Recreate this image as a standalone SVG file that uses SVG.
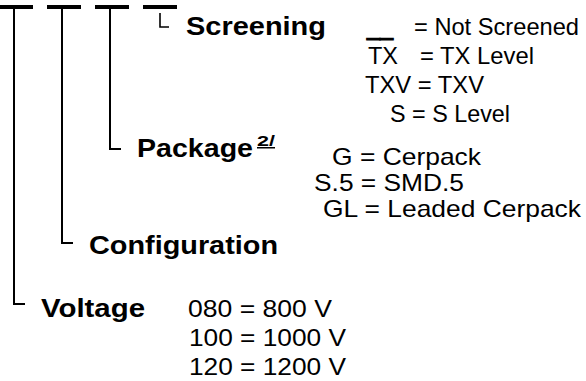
<svg xmlns="http://www.w3.org/2000/svg" width="586" height="381" viewBox="0 0 586 381">
<style>
.b{font-family:"Liberation Sans",Arial,sans-serif;font-weight:bold;font-size:26.5px;fill:#000}
.r{font-family:"Liberation Sans",Arial,sans-serif;font-size:24px;fill:#000}
.s{font-family:"Liberation Sans",Arial,sans-serif;font-weight:bold;font-size:15px;fill:#000;text-decoration:underline}
.bar{fill:#000}
.ln{fill:none;stroke:#000;stroke-width:2}
.lt{fill:none;stroke:#000;stroke-width:1.6}
</style>
<rect width="586" height="381" fill="#fff"/>
<g id="connectors">
  <rect class="bar" x="0" y="5" width="33" height="4"/>
  <rect class="bar" x="47" y="5" width="34" height="4"/>
  <rect class="bar" x="95" y="5" width="34" height="4"/>
  <rect class="bar" x="143" y="5" width="34" height="4"/>
  <path class="ln" d="M14 9V304H25"/>
  <path class="ln" d="M62 9V243H73"/>
  <path class="ln" d="M110 9V149H121"/>
  <path class="lt" d="M160 13V27H169"/>
</g>
<g id="screening">
  <text class="b" x="186" y="35" textLength="140" lengthAdjust="spacingAndGlyphs">Screening</text>
  <text class="r" x="367" y="35" textLength="26" lengthAdjust="spacingAndGlyphs" stroke="#000" stroke-width="1.2">__</text>
  <text class="r" x="414" y="35" textLength="165" lengthAdjust="spacingAndGlyphs">= Not Screened</text>
  <text class="r" x="368" y="64" textLength="30" lengthAdjust="spacingAndGlyphs">TX</text>
  <text class="r" x="420" y="64" textLength="114" lengthAdjust="spacingAndGlyphs">= TX Level</text>
  <text class="r" x="365" y="93" textLength="119" lengthAdjust="spacingAndGlyphs">TXV = TXV</text>
  <text class="r" x="390" y="122" textLength="120" lengthAdjust="spacingAndGlyphs">S = S Level</text>
</g>
<g id="package">
  <text class="b" x="137" y="157" textLength="116" lengthAdjust="spacingAndGlyphs">Package</text>
  <text class="s" x="257" y="146" textLength="18" lengthAdjust="spacingAndGlyphs">2/</text>
  <text class="r" x="332" y="165" textLength="149" lengthAdjust="spacingAndGlyphs">G = Cerpack</text>
  <text class="r" x="314" y="191" textLength="150" lengthAdjust="spacingAndGlyphs">S.5 = SMD.5</text>
  <text class="r" x="323" y="217" textLength="258" lengthAdjust="spacingAndGlyphs">GL = Leaded Cerpack</text>
</g>
<g id="configuration">
  <text class="b" x="89" y="254" textLength="189" lengthAdjust="spacingAndGlyphs">Configuration</text>
</g>
<g id="voltage">
  <text class="b" x="41" y="317" textLength="104" lengthAdjust="spacingAndGlyphs">Voltage</text>
  <text class="r" x="188" y="317" textLength="144" lengthAdjust="spacingAndGlyphs">080 = 800 V</text>
  <text class="r" x="189" y="346" textLength="157" lengthAdjust="spacingAndGlyphs">100 = 1000 V</text>
  <text class="r" x="189" y="375" textLength="157" lengthAdjust="spacingAndGlyphs">120 = 1200 V</text>
</g>
</svg>
